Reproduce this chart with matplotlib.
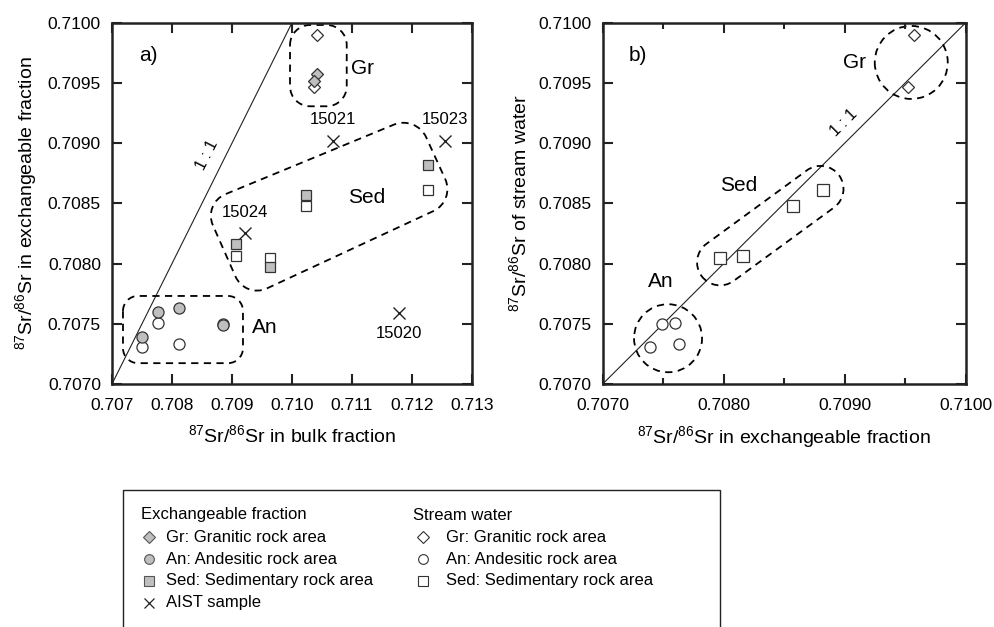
import numpy as np
import matplotlib
matplotlib.use('Agg')
from matplotlib import pyplot as plt
from matplotlib.path import Path
from matplotlib.patches import PathPatch, Rectangle
from matplotlib.ticker import MultipleLocator, FormatStrFormatter

plt.rcParams['font.family'] = ['Liberation Sans', 'DejaVu Sans']
plt.rcParams['mathtext.default'] = 'regular'

# 87Sr/86Sr values: bulk fraction, exchangeable fraction, stream water
gr_bulk = [0.71042, 0.71036]
gr_exch = [0.70957, 0.70952]
gr_stream = [0.70990, 0.70947]

an_bulk = [0.70750, 0.70776, 0.70811, 0.70885]
an_exch = [0.70739, 0.70760, 0.70763, 0.70749]
an_stream = [0.70731, 0.70751, 0.70733, 0.70750]

sed_bulk = [0.70907, 0.70963, 0.71024, 0.71226]
sed_exch = [0.70816, 0.70797, 0.70857, 0.70882]
sed_stream = [0.70806, 0.70805, 0.70848, 0.70861]

aist_id = ['15020', '15021', '15023', '15024']
aist_bulk = [0.71179, 0.71069, 0.71255, 0.70922]
aist_exch = [0.70759, 0.70902, 0.70902, 0.70825]
aist_dy = [-15, 15, 15, 15]   # label offset in points

GRAY = '#bfbfbf'
EDGE = '#333333'
K = 0.5523


def rounded(ax, pts, r, **kw):
    # closed polygon given in display px, corners rounded with radius r (px)
    P = np.asarray(pts, float)
    n = len(P)
    verts, codes = [], []
    for i in range(n):
        p, a, b = P[i], P[i - 1], P[(i + 1) % n]
        da = (a - p) / np.linalg.norm(a - p)
        db = (b - p) / np.linalg.norm(b - p)
        p1, p2 = p + da * r, p + db * r
        verts.append(p1)
        codes.append(Path.MOVETO if i == 0 else Path.LINETO)
        verts += [p1 + (p - p1) * K, p2 + (p - p2) * K, p2]
        codes += [Path.CURVE4] * 3
    verts.append(verts[0])
    codes.append(Path.CLOSEPOLY)
    verts = ax.transData.inverted().transform(np.array(verts))
    ax.add_patch(PathPatch(Path(verts, codes), fill=False, ls=(0, (4, 3)),
                           lw=1.3, ec='black', zorder=1, **kw))


def rbox(ax, corners, r):
    rounded(ax, ax.transData.transform(corners), r)


def stadium(ax, c1, c2, r):
    p1, p2 = ax.transData.transform([c1, c2])
    d = p2 - p1
    u = d / np.linalg.norm(d) if np.linalg.norm(d) > 0 else np.array([1.0, 0.0])
    v = np.array([-u[1], u[0]])
    pts = [p1 - u * r - v * r, p2 + u * r - v * r, p2 + u * r + v * r, p1 - u * r + v * r]
    rounded(ax, pts, r * 0.999)


def style(ax, xfmt):
    for s in ax.spines.values():
        s.set_linewidth(1.8)
        s.set_color('#222222')
    ax.tick_params(which='both', direction='in', top=True, right=True,
                   width=1.5, color='#222222', labelsize=12.5)
    ax.tick_params(which='major', length=7.5)
    ax.tick_params(which='minor', length=4.5)
    ax.tick_params(axis='x', pad=10)
    ax.tick_params(axis='y', pad=8)
    ax.xaxis.set_major_formatter(FormatStrFormatter(xfmt))
    ax.yaxis.set_major_formatter(FormatStrFormatter('%.4f'))
    ax.yaxis.set_major_locator(MultipleLocator(0.0005))


fig = plt.figure(figsize=(9.95, 6.27), dpi=100)
H = 361.3 / 627
B = (627 - 384) / 627
axa = fig.add_axes([112 / 995, B, 360 / 995, H])
axb = fig.add_axes([602.7 / 995, B, 363 / 995, H])

# ---- panel a
axa.set_xlim(0.707, 0.713)
axa.set_ylim(0.707, 0.710)
axa.xaxis.set_major_locator(MultipleLocator(0.001))
style(axa, '%.3f')
axa.plot([0.707, 0.710], [0.707, 0.710], color='#222222', lw=0.8, zorder=1)

mk = dict(ls='none', mec=EDGE, mew=0.9, zorder=3)
axa.plot(gr_bulk, gr_stream, 'D', ms=6.5, mfc='white', **mk)
axa.plot(gr_bulk, gr_exch, 'D', ms=6.5, mfc=GRAY, **mk)
axa.plot(an_bulk, an_stream, 'o', ms=8, mfc='white', **mk)
axa.plot(an_bulk, an_exch, 'o', ms=8, mfc=GRAY, **mk)
axa.plot(sed_bulk, sed_stream, 's', ms=7.5, mfc='white', **mk)
axa.plot(sed_bulk, sed_exch, 's', ms=7.5, mfc=GRAY, **mk)
axa.plot(aist_bulk, aist_exch, 'x', ms=8, mew=1.0, color='#222222', ls='none', zorder=3)
for name, xb, ye, dy in zip(aist_id, aist_bulk, aist_exch, aist_dy):
    axa.annotate(name, (xb, ye), xytext=(0, dy), textcoords='offset points',
                 ha='center', va='center', fontsize=12)

axa.text(0.10, 0.91, 'a)', transform=axa.transAxes, fontsize=15, ha='center', va='center')
axa.text(0.71118, 0.70962, 'Gr', fontsize=15, ha='center', va='center')
axa.text(0.71125, 0.70855, 'Sed', fontsize=15, ha='center', va='center')
axa.text(0.70955, 0.70747, 'An', fontsize=15, ha='center', va='center')
axa.text(0.70858, 0.70890, '1 : 1', fontsize=11.5, ha='center', va='center', rotation=63)

axa.set_xlabel('$^{87}$Sr/$^{86}$Sr in bulk fraction', fontsize=14, labelpad=8)
axa.set_ylabel('$^{87}$Sr/$^{86}$Sr in exchangeable fraction', fontsize=14, labelpad=6)

# ---- panel b
axb.set_xlim(0.707, 0.710)
axb.set_ylim(0.707, 0.710)
axb.xaxis.set_major_locator(MultipleLocator(0.001))
axb.xaxis.set_minor_locator(MultipleLocator(0.0005))
style(axb, '%.4f')
axb.plot([0.707, 0.710], [0.707, 0.710], color='#222222', lw=0.8, zorder=1)
axb.plot(gr_exch, gr_stream, 'D', ms=6.5, mfc='white', **mk)
axb.plot(an_exch, an_stream, 'o', ms=8, mfc='white', **mk)
axb.plot(sed_exch, sed_stream, 's', ms=8, mfc='white', **mk)

axb.text(0.097, 0.91, 'b)', transform=axb.transAxes, fontsize=15, ha='center', va='center')
axb.text(0.70908, 0.70967, 'Gr', fontsize=15, ha='center', va='center')
axb.text(0.70812, 0.70865, 'Sed', fontsize=15, ha='center', va='center')
axb.text(0.70748, 0.70785, 'An', fontsize=15, ha='center', va='center')
axb.text(0.70899, 0.70917, '1 : 1', fontsize=11.5, ha='center', va='center', rotation=45)

axb.set_xlabel('$^{87}$Sr/$^{86}$Sr in exchangeable fraction', fontsize=14, labelpad=8)
axb.set_ylabel('$^{87}$Sr/$^{86}$Sr of stream water', fontsize=14, labelpad=6)

# ---- dashed group outlines
rbox(axa, [(0.709967, 0.709981), (0.710912, 0.709981), (0.710912, 0.709306), (0.709967, 0.709306)], 20)
rbox(axa, [(0.707183, 0.707731), (0.709183, 0.707731), (0.709183, 0.707173), (0.707183, 0.707173)], 15)
rbox(axa, [(0.70852, 0.70850), (0.71207, 0.70923), (0.71272, 0.70852), (0.70922, 0.70771)], 24)
stadium(axb, (0.70955, 0.70967), (0.70955, 0.70967), 36.5)
stadium(axb, (0.70754, 0.70738), (0.70754, 0.70738), 34)
stadium(axb, (0.70797, 0.70801), (0.70880, 0.70862), 23)

# ---- legend box drawn in pixel space
axl = fig.add_axes([0, 0, 1, 1], zorder=-1)
axl.set_xlim(0, 995)
axl.set_ylim(627, 0)
axl.axis('off')
axl.add_patch(Rectangle((123, 490), 597, 160, fill=False, ec='#222222', lw=1.0))
fs = 12
rows = [537, 559, 581, 603]
axl.text(141, 515, 'Exchangeable fraction', fontsize=fs, va='center')
axl.text(413, 515, 'Stream water', fontsize=fs, va='center')
leg1 = [('D', GRAY, 'Gr: Granitic rock area'), ('o', GRAY, 'An: Andesitic rock area'),
        ('s', GRAY, 'Sed: Sedimentary rock area'), ('x', None, 'AIST sample')]
leg2 = [('D', 'white', 'Gr: Granitic rock area'), ('o', 'white', 'An: Andesitic rock area'),
        ('s', 'white', 'Sed: Sedimentary rock area')]
for (m, c, t), y in zip(leg1, rows):
    if m == 'x':
        axl.plot(149, y, 'x', ms=7, mew=0.9, color='#222222')
    else:
        axl.plot(149, y, m, ms=6 if m == 'D' else 7, mfc=c, mec='#555555', mew=0.8)
    axl.text(166, y, t, fontsize=fs, va='center')
for (m, c, t), y in zip(leg2, rows):
    axl.plot(423, y, m, ms=6 if m == 'D' else 7, mfc=c, mec='#333333', mew=0.8)
    axl.text(446, y, t, fontsize=fs, va='center')

fig.savefig('out.png', dpi=100)
